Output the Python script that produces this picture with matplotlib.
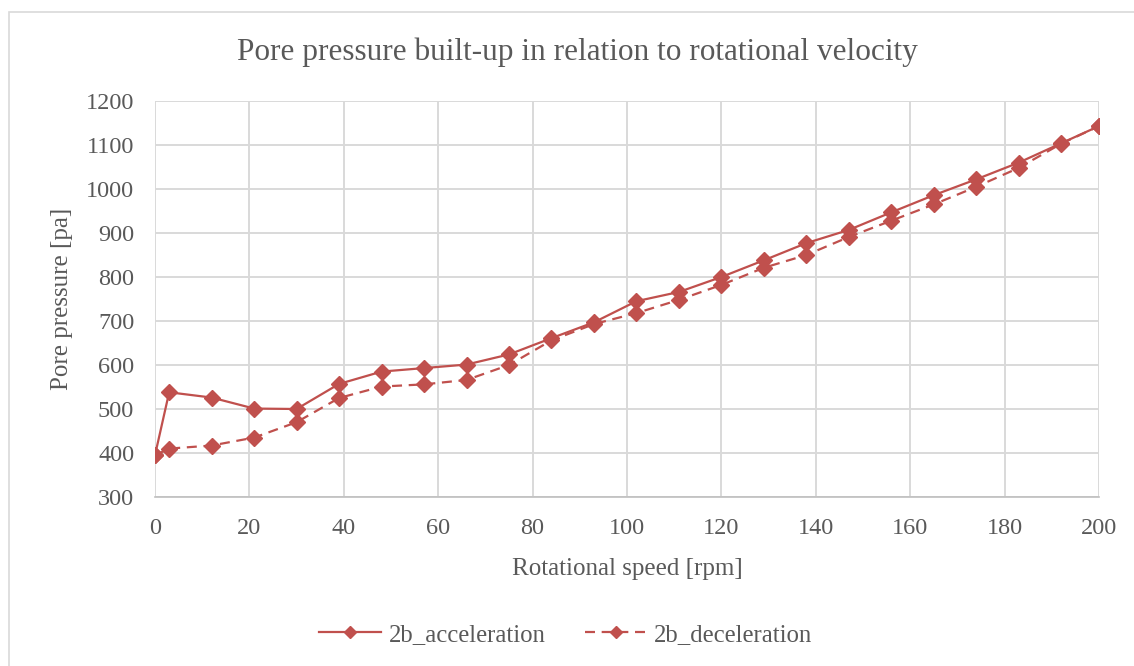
import matplotlib.pyplot as plt
from matplotlib.patches import Rectangle

# rotational speed [rpm]
speed = [0, 3, 12, 21, 30, 39, 48, 57, 66, 75, 84, 93, 102, 111, 120,
         129, 138, 147, 156, 165, 174, 183, 192, 200]

# pore pressure [pa] while speeding up
p_acc = [395, 538, 526, 501, 500, 557, 585, 593, 601, 624, 661, 697, 745, 766, 800,
         838, 877, 907, 947, 986, 1022, 1060, 1104, 1143]

# pore pressure [pa] while slowing down
p_dec = [395, 410, 417, 435, 470, 525, 551, 556, 566, 600, 656, 693, 718, 748, 782,
         821, 850, 891, 928, 965, 1005, 1048, 1103, 1143]

red = '#C0504D'
grey_txt = '#595959'
plt.rcParams['font.family'] = ['Liberation Serif', 'DejaVu Serif']

fig = plt.figure(figsize=(11.34, 6.66), dpi=100)
ax = fig.add_axes([155/1134, 1 - 497/666, 944/1134, 396/666])

# outer chart frame
fig.patches.append(Rectangle((9/1134, -0.05), 1.2, 1 - 12/666 + 0.05, transform=fig.transFigure,
                             fill=False, edgecolor='#d9d9d9', linewidth=1.2))

ax.plot(speed, p_acc, color=red, linewidth=1.6, marker='D', ms=8.5, label='2b_acceleration')
ax.plot(speed, p_dec, color=red, linewidth=1.6, linestyle=(0, (4.5, 3)), marker='D', ms=8.5,
        label='2b_deceleration')

ax.set_xlim(0, 200)
ax.set_ylim(300, 1200)
ax.set_xticks(range(0, 201, 20))
ax.set_yticks(range(300, 1201, 100))
ax.grid(True, color='#d9d9d9', linewidth=1.4)
ax.set_axisbelow(True)
for side in ['top', 'right', 'left']:
    ax.spines[side].set_visible(False)
ax.spines['bottom'].set_color('#bfbfbf')
ax.spines['bottom'].set_linewidth(1.2)
ax.tick_params(length=0, labelsize=17.5, colors=grey_txt)
ax.tick_params(axis='y', pad=15)
ax.tick_params(axis='x', pad=15)

ax.set_xlabel('Rotational speed [rpm]', fontsize=18, color=grey_txt, labelpad=14)
ax.set_ylabel('Pore pressure [pa]', fontsize=18, color=grey_txt, labelpad=9)
fig.text(577/1134, 1 - 52/666, 'Pore pressure built-up in relation to rotational velocity',
         ha='center', va='center', fontsize=22.5, color=grey_txt)

fig.legend(loc='center', bbox_to_anchor=(566/1134, 1 - 635/666), ncol=2, frameon=False,
           fontsize=17.8, labelcolor=grey_txt, handlelength=2.5, handletextpad=0.3,
           columnspacing=1.6, markerscale=0.75)

fig.savefig('out.png', dpi=100)
